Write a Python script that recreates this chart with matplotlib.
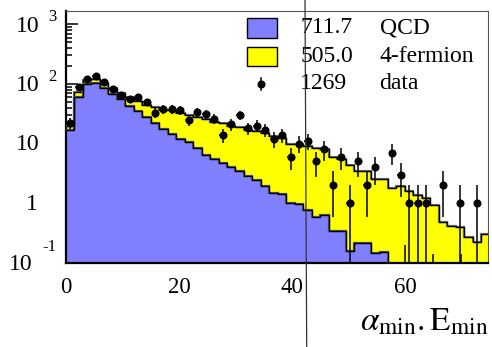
import numpy as np
import matplotlib
matplotlib.use("Agg")
import matplotlib.pyplot as plt
from matplotlib.lines import Line2D
from matplotlib.patches import Rectangle
from matplotlib.ticker import MultipleLocator, LogLocator, NullFormatter

# 数据：50 个 bin，宽 1.5
bin_width = 1.5
qcd = [16.6, 60, 100, 105, 87, 69, 56, 43, 35, 28,
       22.5, 17.5, 14.5, 12, 10.5, 8.4, 6.5, 5.6, 4.7, 4.1,
       3.4, 2.8, 2.45, 1.9, 1.45, 1.4, 1.0, 0.95, 0.78, 0.58,
       0.62, 0.34, 0.34, 0.16, 0.21, 0.21, 0.145, 0.15, 0, 0,
       0, 0, 0, 0, 0, 0, 0, 0, 0, 0]
fourf = [3.4, 13, 17, 14, 18, 15, 13.5, 17, 17, 17,
         18, 19.5, 21.5, 20.5, 19.2, 19.1, 19.5, 17, 17.3, 15.9,
         15.3, 14.2, 13.55, 13.1, 11.75, 11.0, 8.9, 8.95, 8.22, 7.82,
         7.58, 5.56, 5.16, 4.24, 3.29, 3.29, 2.35, 2.35, 1.8, 1.9,
         1.6, 1.35, 1.2, 0.94, 0.49, 0.42, 0.40, 0.27, 0.22, 0.30]
data = [22, 88, 123, 134, 108, 82, 64, 55, 60, 49,
        33, 38, 38, 36, 25, 34, 31, 26, 14, 21,
        30, 18, 20, 17, 12, 14, 6, 10, 11, 5,
        8, 2, 6, 1, 5, 2, 4, 0, 7, 3,
        1, 1, 1, 0, 2, 0, 1, 0, 1, 0]

legend_values = ['711.7', '505.0', '1269']
legend_names = ['QCD', '4-fermion', 'data']
ytick_vals = [0.1, 1, 10, 100, 1000]

plt.rcParams['font.family'] = ['Liberation Serif', 'DejaVu Serif']
plt.rcParams['mathtext.fontset'] = 'stix'

qcd = np.array(qcd)
fourf = np.array(fourf)
data = np.array(data, dtype=float)
total = qcd + fourf
edges = np.arange(len(qcd) + 1) * bin_width
centers = edges[:-1] + bin_width / 2

fig = plt.figure(figsize=(4.92, 3.47), dpi=100)
ax = fig.add_axes([66 / 492, 1 - 262.7 / 347, 422 / 492, 251.7 / 347])
ax.set_yscale('log')
ax.set_xlim(0, 74.7)
ax.set_ylim(0.1, 1673)

floor = 1e-3
ax.stairs(np.maximum(total, floor), edges, baseline=floor, fill=True,
          color='#ffff00', zorder=1)
ax.stairs(np.maximum(total, floor), edges, baseline=None,
          color='#777777', lw=1.6, zorder=3)
ax.stairs(np.maximum(total, floor), edges, baseline=None,
          color='black', lw=1.0, zorder=3)
ax.stairs(np.maximum(qcd, floor), edges, baseline=floor, fill=True,
          color='#8080ff', zorder=2)
ax.stairs(np.maximum(qcd, floor), edges, baseline=None,
          color='#555577', lw=1.6, zorder=3)
ax.stairs(np.maximum(qcd, floor), edges, baseline=None,
          color='black', lw=1.0, zorder=3)

# 数据点 + 泊松误差
m = data > 0
err = np.sqrt(data[m])
lo = np.minimum(err, data[m] * 0.9999)
ax.errorbar(centers[m], data[m], yerr=[lo, err], xerr=0.6, fmt='o',
            color='black', ms=4.8, elinewidth=1.1, capsize=0, zorder=5)

# 坐标轴样式
ax.xaxis.set_major_locator(MultipleLocator(20))
ax.xaxis.set_minor_locator(MultipleLocator(5))
ax.yaxis.set_major_locator(LogLocator(base=10, numticks=10))
ax.yaxis.set_minor_locator(LogLocator(base=10, subs=np.arange(2, 10), numticks=20))
ax.yaxis.set_major_formatter(NullFormatter())
ax.yaxis.set_minor_formatter(NullFormatter())
ax.tick_params(axis='x', which='major', direction='in', length=13, width=1.1,
               labelsize=16.5, pad=10)
ax.tick_params(axis='x', which='minor', direction='in', length=6.5, width=1.1)
ax.tick_params(axis='y', which='major', direction='in', length=8.6, width=1.1)
ax.tick_params(axis='y', which='minor', direction='in', length=4.3, width=1.1)
ax.spines['left'].set_linewidth(1.6)
ax.spines['bottom'].set_linewidth(1.6)
ax.spines['top'].set_linewidth(0.8)
ax.spines['right'].set_linewidth(0.8)
ax.spines['top'].set_color('#555555')
ax.spines['right'].set_color('#555555')

# y 轴标签 "10 3" 风格
for v in ytick_vals:
    e = int(round(np.log10(v)))
    if e == 0:
        ax.annotate('1', xy=(0, v), xycoords=('axes fraction', 'data'),
                    xytext=(-20, -1), textcoords='offset points',
                    ha='right', va='center', fontsize=17)
    elif e == 1:
        ax.annotate('10', xy=(0, v), xycoords=('axes fraction', 'data'),
                    xytext=(-18.7, -1), textcoords='offset points',
                    ha='right', va='center', fontsize=17)
    elif e > 1:
        ax.annotate('10', xy=(0, v), xycoords=('axes fraction', 'data'),
                    xytext=(-18.7, -1.4), textcoords='offset points',
                    ha='right', va='center', fontsize=17)
        ax.annotate(str(e), xy=(0, v), xycoords=('axes fraction', 'data'),
                    xytext=(-13, 5), textcoords='offset points',
                    ha='left', va='center', fontsize=12)
    else:
        ax.annotate('10', xy=(0, v), xycoords=('axes fraction', 'data'),
                    xytext=(-24, -1.5), textcoords='offset points',
                    ha='right', va='center', fontsize=17)
        ax.annotate(str(e), xy=(0, v), xycoords=('axes fraction', 'data'),
                    xytext=(-17.3, 11), textcoords='offset points',
                    ha='left', va='center', fontsize=12)

ax.xaxis.set_label_coords(1.0, -0.175)
ax.set_xlabel(r'$\alpha_{\mathrm{min}}.\mathrm{E}_{\mathrm{min}}$',
              fontsize=24, ha='right', va='top')

# 图例（手动）
ax.add_patch(Rectangle((0.4289, 0.8927), 0.0711, 0.0795, transform=ax.transAxes,
                       facecolor='#8080ff', edgecolor='black', lw=1, zorder=6))
ax.add_patch(Rectangle((0.4289, 0.7815), 0.0711, 0.0755, transform=ax.transAxes,
                       facecolor='#ffff00', edgecolor='black', lw=1, zorder=6))
ax.plot([0.462], [0.710], 'o', color='black', ms=4.8, transform=ax.transAxes, zorder=6)
ax.plot([0.462, 0.462], [0.686, 0.734], color='black', lw=1.1,
        transform=ax.transAxes, zorder=6)
rows_y = [0.9325, 0.8212, 0.7100]
for val, name, yy in zip(legend_values, legend_names, rows_y):
    ax.text(0.555, yy, val, transform=ax.transAxes, fontsize=17,
            ha='left', va='center', zorder=6)
    ax.text(0.743, yy, name, transform=ax.transAxes, fontsize=17,
            ha='left', va='center', zorder=6)

# 穿过整张图的竖线
fig.add_artist(Line2D([305 / 492, 306.7 / 492], [1, 0], color='#333333', lw=0.9,
                      transform=fig.transFigure, zorder=10))

fig.savefig('out.png', dpi=100)
